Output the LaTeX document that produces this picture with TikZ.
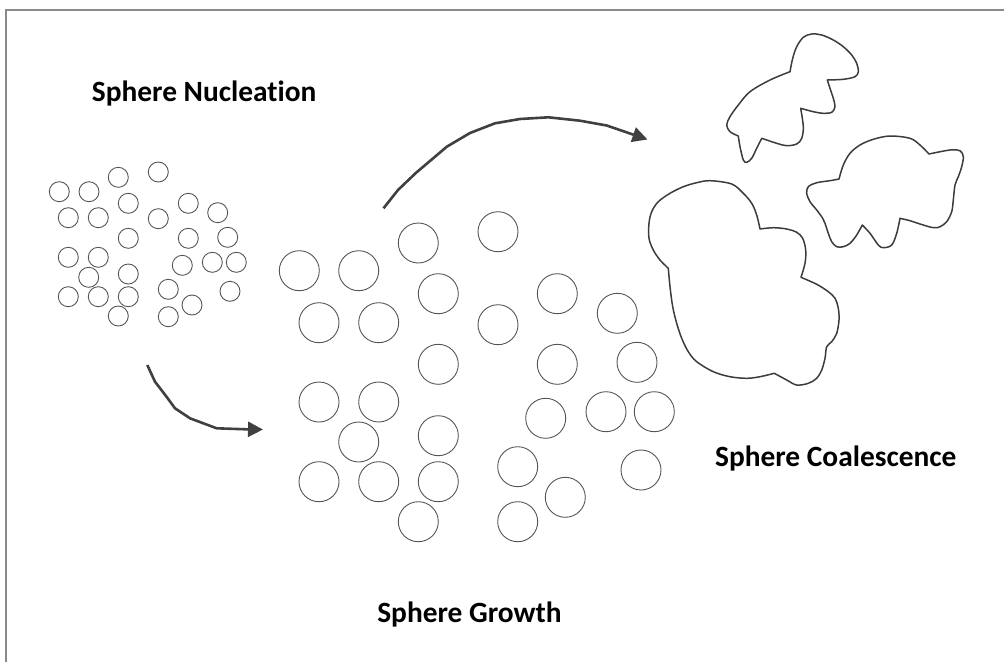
\documentclass[tikz,border=0pt]{standalone}
\usepackage{fontspec}
\setmainfont{Carlito}[Ligatures=NoCommon]
\usetikzlibrary{arrows.meta}
\definecolor{circline}{HTML}{555555}
\definecolor{blobline}{HTML}{3C3C3C}
\definecolor{arrowcol}{HTML}{404040}
\definecolor{framecol}{HTML}{8A8A8A}
\tikzset{
  smallc/.style={circle,draw=circline,line width=0.9pt,minimum size=20pt,inner sep=0pt},
  bigc/.style={circle,draw=circline,line width=0.9pt,minimum size=40pt,inner sep=0pt},
  blob/.style={draw=blobline,line width=1.5pt,line join=round},
  flowarrow/.style={draw=arrowcol,line width=2.6pt,line join=round,
    -{Triangle[length=15pt,width=15pt]}},
  lbl/.style={font=\fontsize{29.4}{34}\selectfont\bfseries,inner sep=0pt,anchor=base},
  framebox/.style={draw=framecol,line width=1.3pt}
}
\begin{document}
\begin{tikzpicture}[x=1pt,y=-1pt]
\useasboundingbox (0,0) rectangle (1004,662);
% frame
\coordinate (fbl) at (6,662);
\coordinate (ftl) at (6,10);
\coordinate (ftr) at (1004,10);
\draw[framebox] (fbl) -- (ftl) -- (ftr);

% labels
\node[lbl] (tnuc) at (204.2,101.7) {Sphere Nucleation};
\node[lbl] (tgro) at (469.5,622.7) {Sphere Growth};
\node[lbl] (tcoa) at (835.8,466.7) {Sphere Coalescence};

% small circles (nucleation)
\foreach \i/\x/\y in {1/59.3/191.7, 2/89/191.7, 3/118.3/177.3, 4/158.3/172, 5/128.3/203.3,
  6/188.3/203.3, 7/217.7/212.7, 8/68.3/217.7, 9/98.3/217.7, 10/158.3/218.7,
  11/128.3/238.3, 12/188.3/238.3, 13/227.7/237.3, 14/68.3/257.3, 15/98.3/257.3,
  16/182.3/265.3, 17/212.3/262.3, 18/236.3/262.3, 19/88.7/277.3, 20/128.3/274,
  21/168.3/289.3, 22/230/291.3, 23/68.3/296.7, 24/98.3/296.7, 25/128.3/296.7,
  26/192/305, 27/118.3/316, 28/168.3/316.7}
  \node[smallc] (s\i) at (\x,\y) {};

% big circles (growth)
\foreach \i/\x/\y in {1/299.3/270.7, 2/358.7/270.7, 3/418.3/243, 4/498/231.7,
  5/319/322.7, 6/378.7/322.7, 7/438.3/293.7, 8/498/324.7, 9/557.3/293.7,
  10/617.3/313.3, 11/438.3/364.3, 12/557.3/364.3, 13/637/362.3, 14/319/402,
  15/378.7/402, 16/358.7/442, 17/438.3/435.7, 18/545.7/418.3, 19/606/411.7,
  20/654.3/411.7, 21/641/470, 22/319/481.7, 23/378.7/481.7, 24/438.3/481.7,
  25/517.7/466.7, 26/565.3/497.3, 27/418.3/521.7, 28/517.7/521.7}
  \node[bigc] (b\i) at (\x,\y) {};

% arrows
\coordinate (a1s) at (147.3,365);
\coordinate (a1e) at (263,429.5);
\draw[flowarrow] (a1s) -- (155,381.7) -- (166,396) -- (175,408.3) -- (190,418.3)
  -- (216.7,428.3) -- (246.7,429.3) -- (a1e);
\coordinate (a2s) at (383.5,208.3);
\coordinate (a2e) at (647.5,139.5);
\draw[flowarrow] (a2s) -- (398,190) -- (415.8,173) -- (446.8,146.7) -- (470,133)
  -- (495,123.3) -- (520,119) -- (548.4,117.3) -- (580,120.7) -- (606.7,125.5)
  -- (a2e);

% blob A (top)
\draw[blob]
  plot[smooth,tension=0.55] coordinates {(790,71.7) (770,80) (750,91.7) (738.3,105) (730,116.7) (726.7,125) (730,131.7) (738.3,136)}
  -- plot[smooth,tension=0.55] coordinates {(738.3,136) (740,146.7) (743.3,160) (746.7,162.3) (751.7,158.3) (756.7,148.3) (761.7,138.3)}
  -- plot[smooth,tension=0.55] coordinates {(761.7,138.3) (776.7,143.3) (786.7,145.7) (796.7,144) (801.7,138.3) (803.3,126.7) (800.7,108.3)}
  -- plot[smooth,tension=0.55] coordinates {(800.7,108.3) (813.3,111.7) (823.3,113.3) (831.7,112.3) (835,106.7) (833.3,98.3) (830,88.3) (827.3,80)}
  -- plot[smooth,tension=0.55] coordinates {(827.3,80) (843.3,79.3) (855,76.7) (858.3,71.7) (856.7,63.3) (851.7,55) (843.3,46.7) (833.3,40) (821.7,35) (811.7,34) (803.3,37.3) (796.7,46.7) (792.7,58.3) (790,71.7)}
  -- cycle;

% blob B (right)
\draw[blob]
  plot[smooth,tension=0.55] coordinates {(839,179) (843.3,165) (850,153.3) (860,145) (873.3,139.3) (890,136) (910,138.3) (920,145) (929,154)}
  -- plot[smooth,tension=0.55] coordinates {(929,154) (950,150) (960,150.7) (963.3,156.7) (961.7,166.7) (958.3,176.7) (955,185) (953.3,200) (951.7,211.7) (946.7,221.7) (940,226.7) (933.3,227.7) (920,224) (910,220.7) (900,218.3)}
  -- plot[smooth,tension=0.55] coordinates {(900,218.3) (896.7,233.3) (891.7,245) (883.3,247.7) (878.3,245) (870,233.3) (862.3,225)}
  -- plot[smooth,tension=0.55] coordinates {(862.3,225) (856.7,235) (850,243.3) (843.3,246.7) (836.7,246.7) (831.7,241.7) (828.3,233.3) (825,223.3) (822.7,218.3) (816.7,210) (810,201.7) (806.7,193.3) (808.3,186.7) (816.7,182.7) (830,180.7) (839,179)}
  -- cycle;

% blob C (big)
\draw[blob]
  plot[smooth,tension=0.55] coordinates {(668.3,268.3) (660,260) (653.3,250) (649,238.3) (649,223.3) (651.7,211.7) (658.3,201.7) (670,193.3) (683.3,186.7) (696.7,182.7) (710,180.7) (731.7,184) (743.3,193.3) (751.7,203.3) (756.7,215) (760,229)}
  -- plot[smooth,tension=0.55] coordinates {(760,229) (773.3,227.7) (786.7,229) (796.7,232.3) (802.7,238.3) (805.7,250) (805,263.3) (801,277.3)}
  -- plot[smooth,tension=0.55] coordinates {(801,277.3) (816.7,284.3) (828.3,291.7) (835,298.3) (838.3,308.3) (839,320) (836.7,333.3) (831.7,341.7) (826.7,346.7) (825,358.3) (821.7,370) (816.7,378.3) (808.3,383.3) (796.7,385) (786.7,380) (774.3,373.3)}
  -- plot[smooth,tension=0.55] coordinates {(774.3,373.3) (760,376.7) (746.7,378.3) (730,376.7) (713.3,371.7) (696.7,361.7) (688.3,351.7) (681.7,338.3) (676.7,323.3) (672.7,306.7) (670,286.7) (668.3,268.3)}
  -- cycle;
\end{tikzpicture}
\end{document}
